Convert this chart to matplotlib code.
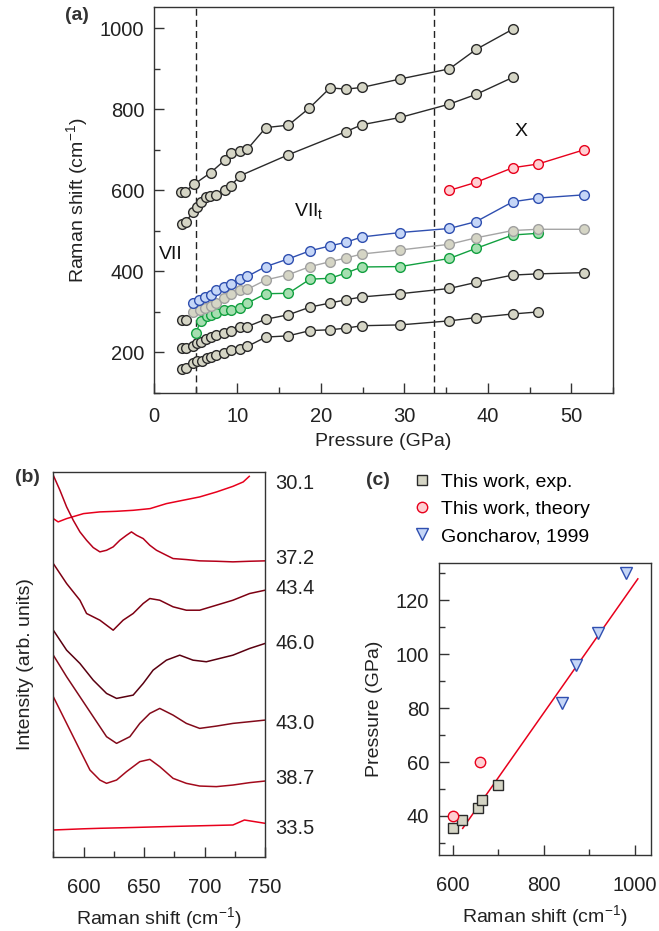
import matplotlib
matplotlib.use("Agg")
import matplotlib.pyplot as plt
from matplotlib.ticker import MultipleLocator, NullLocator

plt.rcParams['font.family'] = ['Liberation Sans', 'DejaVu Sans']
plt.rcParams['mathtext.fontset'] = 'custom'
plt.rcParams['mathtext.rm'] = 'Liberation Sans'
plt.rcParams['mathtext.it'] = 'Liberation Sans:italic'
plt.rcParams['mathtext.bf'] = 'Liberation Sans:bold'

# ---------------- Panel (a) data ----------------
top_p = [3.2, 3.7, 4.8, 6.8, 8.5, 9.2, 10.3, 11.2, 13.4, 16.1, 18.6, 21.1, 23.0, 24.9, 29.5, 35.4, 38.6, 43.0]
top_v = [597, 597, 615, 644, 675, 692, 698, 702, 755, 761, 803, 853, 850, 854, 875, 900, 948, 998]

sec_p = [3.3, 3.8, 4.7, 5.1, 5.6, 6.2, 6.7, 7.4, 8.5, 9.2, 10.3, 16.1, 23.0, 24.9, 29.5, 35.4, 38.6, 43.0]
sec_v = [517, 523, 546, 560, 571, 583, 585, 589, 600, 611, 636, 688, 745, 762, 780, 813, 837, 879]

blue_p = [4.7, 5.4, 6.1, 6.8, 7.4, 8.4, 9.2, 10.3, 11.2, 13.4, 16.1, 18.7, 21.1, 23.0, 24.9, 29.5, 35.4, 38.6, 43.0, 46.0, 51.5]
blue_v = [322, 330, 337, 342, 353, 361, 369, 382, 388, 412, 431, 451, 463, 472, 485, 496, 506, 523, 572, 581, 589]

gray_p = [4.7, 5.5, 6.1, 6.8, 7.4, 8.4, 9.2, 10.3, 11.2, 13.4, 16.1, 18.7, 21.1, 23.0, 24.9, 29.5, 35.4, 38.6, 43.0, 46.0, 51.5]
gray_v = [299, 305, 309, 315, 323, 334, 345, 353, 356, 379, 392, 412, 424, 433, 443, 453, 467, 483, 501, 504, 504]

green_p = [5.0, 5.6, 6.3, 6.8, 7.4, 8.4, 9.2, 10.3, 11.2, 13.4, 16.1, 18.7, 21.1, 23.0, 24.9, 29.5, 35.4, 38.6, 43.0, 46.0]
green_v = [248, 277, 289, 293, 297, 305, 305, 309, 322, 345, 346, 381, 383, 396, 411, 412, 432, 457, 490, 494]

mid_p = [3.3, 3.8]
mid_v = [281, 281]

low1_p = [3.3, 3.8, 4.7, 5.1, 5.6, 6.2, 6.8, 7.4, 8.4, 9.2, 10.3, 11.2, 13.4, 16.1, 18.7, 21.1, 23.0, 24.9, 29.5, 35.4, 38.6, 43.0, 46.0, 51.5]
low1_v = [212, 212, 215, 223, 227, 233, 238, 244, 248, 252, 263, 264, 282, 293, 312, 322, 330, 337, 345, 358, 373, 391, 394, 397]

low2_p = [3.3, 3.8, 4.7, 5.2, 5.7, 6.3, 6.8, 7.4, 8.4, 9.2, 10.3, 11.2, 13.4, 16.1, 18.7, 21.1, 23.0, 24.9, 29.5, 35.4, 38.6, 43.0, 46.0]
low2_v = [159, 161, 174, 178, 180, 186, 190, 194, 198, 205, 209, 215, 238, 241, 254, 256, 260, 266, 268, 278, 286, 295, 300]

red_p = [35.4, 38.6, 43.0, 46.0, 51.5]
red_v = [600, 620, 656, 665, 700]

phase_bounds = [5.0, 33.5]

# ---------------- Panel (b) data ----------------
spec_labels = ['30.1', '37.2', '43.4', '46.0', '43.0', '38.7', '33.5']
spec_label_y = [374, 299, 269, 214, 134, 79, 29]

s301_x = [575, 579, 586, 600, 613.5, 627, 641, 655, 668.5, 682, 696, 710, 723.5, 732, 737]
s301_y = [339, 335.7, 339, 344, 345.7, 346.3, 347.3, 349, 354, 357.3, 360.7, 365.7, 371.3, 375.7, 381.3]

s372_x = [575, 580.5, 586, 591.5, 597, 602.5, 608, 613.5, 619, 624.5, 630, 635.5, 639.6, 643.8, 649.3, 654.8, 660.3, 668.5, 674, 685, 696, 709.8, 723.5, 737.3, 750]
s372_y = [382.3, 367.3, 350.7, 337.3, 325.7, 317.3, 310, 305.7, 307.3, 310.7, 317.3, 322.3, 325.7, 322.3, 319, 312.3, 307.3, 302.3, 299, 298, 296.7, 296.3, 295.7, 296.3, 296.7]

s434_x = [575, 586, 597, 602.5, 613.5, 624.5, 632.7, 641, 649.3, 654.8, 663, 674, 685, 696, 709.8, 723.5, 737.3, 750]
s434_y = [294, 274, 257.3, 244, 237.3, 227.3, 237.3, 244, 254, 259, 257.3, 250.7, 247.3, 247.3, 252.3, 257.3, 264, 267.3]

s460_x = [575, 586, 597, 608, 619, 627.3, 641, 649.3, 657.5, 668.5, 679.5, 690.5, 701.5, 712.5, 723.5, 737.3, 750]
s460_y = [227.3, 207.3, 194, 177.3, 164, 159, 162.3, 174, 187.3, 197.3, 202.3, 197.3, 195.7, 199, 202.3, 209, 214]

s430_x = [575, 586, 597, 608, 619, 627.3, 638.3, 646.5, 654.8, 663, 674, 685, 696, 709.8, 723.5, 737.3, 750]
s430_y = [202.3, 180.7, 160.7, 140.7, 120.7, 114, 120.7, 134, 144, 149, 142.3, 134, 129, 131.3, 134, 135.7, 137.3]

s387_x = [575, 586, 597, 605.3, 613.5, 619, 627.3, 635.5, 646.5, 654.8, 663, 674, 685, 696, 709.8, 723.5, 737.3, 750]
s387_y = [160.7, 134, 107.3, 87.3, 77.3, 74, 77.3, 85.7, 95.7, 98, 90.7, 79, 74, 71.3, 70.7, 72.3, 74.7, 76.3]

s335_x = [575, 600, 613.5, 641, 668.5, 696, 723.5, 733, 750]
s335_y = [27.3, 28.5, 29, 29.8, 30.7, 31.5, 32.3, 37.3, 34]

# ---------------- Panel (c) data ----------------
exp_x = [600, 620, 656, 665, 700]
exp_y = [35.4, 38.6, 43.0, 46.0, 51.5]
theory_x = [600, 660]
theory_y = [40, 60]
gon_x = [840, 870, 920, 980]
gon_y = [82, 96, 108, 130]
fit_x = [622, 1007]
fit_y = [35.4, 128]

# ---------------- Styles ----------------
FS = 14
TFS = 14.5
face_gray = '#d5d5c5'
edge_dark = '#2a2a2a'

fig = plt.figure(figsize=(6.59, 9.31), dpi=100)

def style_axes(ax, xpad, ypad=7):
    for s in ax.spines.values():
        s.set_color('#333333')
        s.set_linewidth(1.0)
    ax.tick_params(which='both', direction='in', colors='#333333', labelcolor='#222222', labelsize=TFS)
    ax.tick_params(which='major', length=7, width=1)
    ax.tick_params(which='minor', length=4, width=1)
    ax.tick_params(axis='x', which='both', pad=xpad)
    ax.tick_params(axis='y', which='both', pad=ypad)

# ---- (a)
ax = fig.add_axes([0.2337, 0.5779, 0.6965, 0.4143])
style_axes(ax, xpad=10)
ms = 7
ax.plot(top_p, top_v, '-o', color=edge_dark, lw=1, ms=ms, mfc=face_gray, mec=edge_dark, mew=1)
ax.plot(sec_p, sec_v, '-o', color=edge_dark, lw=1, ms=ms, mfc=face_gray, mec=edge_dark, mew=1)
ax.plot(low2_p, low2_v, '-o', color=edge_dark, lw=1, ms=ms, mfc=face_gray, mec=edge_dark, mew=1)
ax.plot(low1_p, low1_v, '-o', color=edge_dark, lw=1, ms=ms, mfc=face_gray, mec=edge_dark, mew=1)
ax.plot(mid_p, mid_v, '-o', color=edge_dark, lw=1, ms=ms, mfc=face_gray, mec=edge_dark, mew=1)
ax.plot(green_p, green_v, '-o', color='#12a040', lw=1, ms=ms, mfc='#a6dfb0', mec='#12a040', mew=1)
ax.plot(gray_p, gray_v, '-o', color='#a5a5a5', lw=1, ms=ms, mfc=face_gray, mec='#a0a0a0', mew=1)
ax.plot(blue_p, blue_v, '-o', color='#2f4fb0', lw=1, ms=ms, mfc='#c5d6f7', mec='#2f4fb0', mew=1)
ax.plot(red_p, red_v, '-o', color='#e8001c', lw=1, ms=ms, mfc='#ffcfd2', mec='#e8001c', mew=1)
for pb in phase_bounds:
    ax.axvline(pb, color='#222222', lw=1, ls=(0, (5, 3)), zorder=0)
ax.set_xlim(0, 55)
ax.set_ylim(100, 1052)
ax.xaxis.set_major_locator(MultipleLocator(10))
ax.xaxis.set_minor_locator(MultipleLocator(5))
ax.yaxis.set_major_locator(MultipleLocator(200))
ax.yaxis.set_minor_locator(MultipleLocator(100))
ax.set_xlabel('Pressure (GPa)', fontsize=FS, color='#222222', labelpad=5)
ax.set_ylabel('Raman shift (cm$^{-1}$)', fontsize=FS, color='#222222', labelpad=7)
ax.text(2.0, 441, 'VII', fontsize=FS, va='center', ha='center', color='#111111')
ax.text(18.5, 550, r'VII$_\mathrm{t}$', fontsize=FS, va='center', ha='center', color='#111111')
ax.text(44.0, 745, 'X', fontsize=FS, va='center', ha='center', color='#111111')
fig.text(65/659, 1-16/931, '(a)', fontsize=FS, fontweight='bold', ha='left', va='center', color='#333333')

# ---- (b)
axb = fig.add_axes([0.0809, 0.0792, 0.3212, 0.4142])
style_axes(axb, xpad=15)
axb.plot(s301_x, s301_y, color='#e8001c', lw=1.1)
axb.plot(s372_x, s372_y, color='#b5001a', lw=1.1)
axb.plot(s434_x, s434_y, color='#7d0012', lw=1.1)
axb.plot(s460_x, s460_y, color='#5a0010', lw=1.1)
axb.plot(s430_x, s430_y, color='#820a1a', lw=1.1)
axb.plot(s387_x, s387_y, color='#a30a1c', lw=1.1)
axb.plot(s335_x, s335_y, color='#e8001c', lw=1.1)
axb.set_xlim(575, 750)
axb.set_ylim(0, 386)
axb.xaxis.set_major_locator(MultipleLocator(50))
axb.xaxis.set_minor_locator(MultipleLocator(25))
axb.yaxis.set_major_locator(NullLocator())
axb.yaxis.set_minor_locator(NullLocator())
axb.set_xlabel('Raman shift (cm$^{-1}$)', fontsize=FS, color='#222222', labelpad=6)
axb.set_ylabel('Intensity (arb. units)', fontsize=FS, color='#222222', labelpad=14)
for lab, ly in zip(spec_labels, spec_label_y):
    axb.text(1.05, ly / 386, lab, transform=axb.transAxes, fontsize=TFS, va='center', ha='left', color='#222222')
fig.text(15/659, 1-478/931, '(b)', fontsize=FS, fontweight='bold', ha='left', va='center', color='#333333')

# ---- (c)
axc = fig.add_axes([0.6662, 0.0816, 0.3217, 0.314])
style_axes(axc, xpad=15)
axc.plot(fit_x, fit_y, color='#e8001c', lw=1.1, zorder=2)
h1, = axc.plot(exp_x, exp_y, 's', ms=7, mfc=face_gray, mec=edge_dark, mew=1, ls='none', label='This work, exp.', zorder=3)
h2, = axc.plot(theory_x, theory_y, 'o', ms=7.5, mfc='#ffcfd2', mec='#e8001c', mew=1, ls='none', label='This work, theory', zorder=3)
h3, = axc.plot(gon_x, gon_y, 'v', ms=8.5, mfc='#c5d6f7', mec='#2f4fb0', mew=1, ls='none', label='Goncharov, 1999', zorder=3)
axc.set_xlim(570, 1036)
axc.set_ylim(25.5, 134)
axc.xaxis.set_major_locator(MultipleLocator(200))
axc.xaxis.set_minor_locator(MultipleLocator(100))
axc.yaxis.set_major_locator(MultipleLocator(20))
axc.yaxis.set_minor_locator(MultipleLocator(10))
axc.set_xlabel('Raman shift (cm$^{-1}$)', fontsize=FS, color='#222222', labelpad=6)
axc.set_ylabel('Pressure (GPa)', fontsize=FS, color='#222222', labelpad=9)
fig.legend(handles=[h1, h2, h3], loc='upper left', bbox_to_anchor=(412/659, 1-473/931),
           frameon=False, fontsize=FS, handlelength=1.0, handletextpad=0.5,
           labelspacing=0.5, borderaxespad=0, borderpad=0)
fig.text(366/659, 1-480/931, '(c)', fontsize=FS, fontweight='bold', ha='left', va='center', color='#333333')

fig.savefig('out.png', dpi=100)
